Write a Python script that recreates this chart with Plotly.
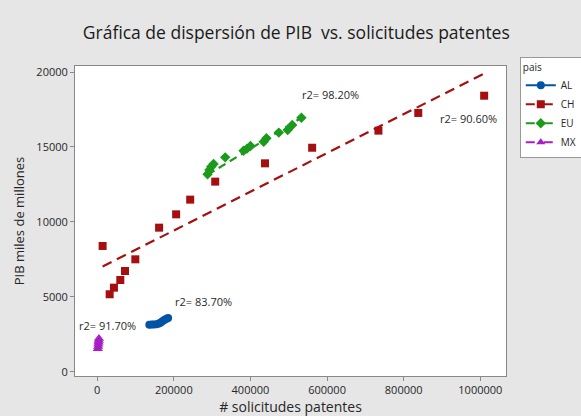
import plotly.graph_objects as go

# ---- data ----
al_x = [136000, 142000, 148000, 155000, 161000, 166000, 171000, 176000, 181000, 185000]
al_y = [3150, 3160, 3160, 3180, 3230, 3300, 3390, 3480, 3550, 3590]
al_fit_x = [136000, 185000]
al_fit_y = [3130, 3600]

ch_x = [14100, 32500, 43700, 60300, 72500, 99500, 161500, 206000, 242700, 308000,
        438000, 561000, 734000, 838000, 1010000]
ch_y = [8400, 5180, 5620, 6130, 6730, 7510, 9620, 10510, 11490, 12690,
        13910, 14950, 16090, 17270, 18420]
ch_fit_x = [14100, 1010000]
ch_fit_y = [7030, 19900]

eu_x = [288000, 293000, 297600, 303700, 334000, 382000, 391000, 400000, 434500,
        441600, 474000, 497000, 509000, 533000]
eu_y = [13180, 13470, 13690, 13870, 14310, 14750, 14890, 15070, 15350,
        15580, 15960, 16130, 16470, 16950]
eu_fit_x = [288000, 533000]
eu_fit_y = [13150, 16950]

mx_x = [1500, 2500, 3000, 3500, 4000, 4500]
mx_y = [1550, 1700, 1850, 1980, 2100, 2230]
mx_fit_x = [1500, 4500]
mx_fit_y = [1560, 2220]

groups = ["AL", "CH", "EU", "MX"]
r2_labels = ["r2= 83.70%", "r2= 90.60%", "r2= 98.20%", "r2= 91.70%"]
r2_x = [276700, 970000, 609000, 28000]
r2_y = [4670, 16930, 18470, 3070]

x_ticks = [0, 200000, 400000, 600000, 800000, 1000000]
y_ticks = [0, 5000, 10000, 15000, 20000]

# ---- style ----
colors = {"AL": "#0054a6", "CH": "#a50f0f", "EU": "#1b9a1b", "MX": "#a51fc4"}
symbols = {"AL": "circle", "CH": "square", "EU": "diamond", "MX": "triangle-up"}
dashes = {"AL": "solid", "CH": "10px,6px", "EU": "8px,5px", "MX": "8px,5px"}
sizes = {"AL": 8, "CH": 8, "EU": 8, "MX": 9}

data = {
    "AL": (al_x, al_y, al_fit_x, al_fit_y),
    "CH": (ch_x, ch_y, ch_fit_x, ch_fit_y),
    "EU": (eu_x, eu_y, eu_fit_x, eu_fit_y),
    "MX": (mx_x, mx_y, mx_fit_x, mx_fit_y),
}

fig = go.Figure()
for g in groups:
    x, y, fx, fy = data[g]
    fig.add_trace(go.Scatter(x=fx, y=fy, mode="lines", showlegend=False,
                             line=dict(color=colors[g], width=2.2, dash=dashes[g])))
    fig.add_trace(go.Scatter(x=x, y=y, mode="markers", showlegend=False,
                             marker=dict(color=colors[g], symbol=symbols[g], size=sizes[g],
                                         line=dict(width=0))))
legend_dash = {"AL": "solid", "CH": "dash", "EU": "dash", "MX": "dash"}
for g in groups:
    fig.add_trace(go.Scatter(x=[None], y=[None], mode="lines+markers", name=g,
                             line=dict(color=colors[g], width=2, dash=legend_dash[g]),
                             marker=dict(color=colors[g], symbol=symbols[g], size=8)))

for t, ax, ay in zip(r2_labels, r2_x, r2_y):
    fig.add_annotation(x=ax, y=ay, text=t, showarrow=False,
                       font=dict(size=11, color="#2a2a2a", family="Open Sans"))

fig.update_layout(
    width=581, height=416,
    paper_bgcolor="#e6e6e6", plot_bgcolor="white",
    margin=dict(l=75, r=75, t=66, b=40, autoexpand=False),
    font=dict(family="Open Sans", color="#262626", size=11),
    title=dict(text="Gráfica de dispersión de PIB  vs. solicitudes patentes",
               x=0.51, xanchor="center", y=0.92, yanchor="middle",
               font=dict(size=17.5, color="#1a1a1a", family="Open Sans")),
    legend=dict(title=dict(text="pais", font=dict(size=10)), x=1.032, y=1.03,
                xanchor="left", yanchor="top", bgcolor="white",
                bordercolor="#999999", borderwidth=1, font=dict(size=10),
                itemwidth=30, tracegroupgap=0),
    xaxis=dict(range=[-58000, 1067000], tickvals=x_ticks, ticktext=[str(v) for v in x_ticks],
               showgrid=False, zeroline=False, showline=True, linecolor="#888888",
               mirror=True, ticks="outside", ticklen=4, tickcolor="#888888",
               title=dict(text="# solicitudes patentes", font=dict(size=14), standoff=4)),
    yaxis=dict(range=[-270, 20400], tickvals=y_ticks, ticktext=[str(v) for v in y_ticks],
               showgrid=False, zeroline=False, showline=True, linecolor="#888888",
               mirror=True, ticks="outside", ticklen=4, tickcolor="#888888",
               title=dict(text="PIB miles de millones", font=dict(size=13), standoff=8)),
)

fig.write_html("out.html", post_script="document.body.style.margin='0';",
               config={"displayModeBar": False})
